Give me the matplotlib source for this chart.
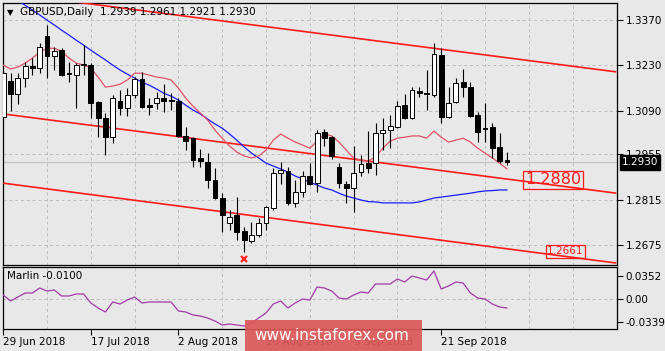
import matplotlib
matplotlib.use('Agg')
import matplotlib.pyplot as plt
import matplotlib.transforms as mtransforms
from matplotlib.patches import Rectangle
import numpy as np

# ---------------- data ----------------
symbol_header = "GBPUSD,Daily  1.2939 1.2961 1.2921 1.2930"
indicator_name = "Marlin -0.0100"

date_tick_idx = [0, 12, 24, 36, 48, 60]
date_tick_labels = ["29 Jun 2018", "17 Jul 2018", "2 Aug 2018", "20 Aug 2018", "5 Sep 2018", "21 Sep 2018"]

price_ticks = [1.3370, 1.3230, 1.3090, 1.2955, 1.2815, 1.2675]
marlin_ticks = [0.0352, 0.0, -0.0339]
marlin_tick_labels = ["0.0352", "0.00", "-0.0339"]

opens = [1.3070, 1.3182, 1.3141, 1.3191, 1.3228, 1.3222, 1.3321, 1.3259, 1.3277, 1.3206,
         1.3200, 1.3231, 1.3231, 1.3117, 1.3067, 1.3008, 1.3120, 1.3098, 1.3138, 1.3188,
         1.3107, 1.3114, 1.3129, 1.3123, 1.3120, 1.3012, 1.3005, 1.2944, 1.2931, 1.2876,
         1.2820, 1.2743, 1.2767, 1.2718, 1.2687, 1.2706, 1.2743, 1.2789, 1.2897, 1.2903,
         1.2805, 1.2839, 1.2888, 1.2866, 1.3024, 1.3008, 1.2916, 1.2863, 1.2851, 1.2900,
         1.2928, 1.2928, 1.3021, 1.3030, 1.3039, 1.3107, 1.3067, 1.3151, 1.3144, 1.3138,
         1.3262, 1.3070, 1.3117, 1.3178, 1.3163, 1.3076, 1.3038, 1.3039, 1.2978, 1.2939]
highs = [1.3209, 1.3206, 1.3206, 1.3240, 1.3253, 1.3299, 1.3355, 1.3287, 1.3283, 1.3240,
         1.3237, 1.3293, 1.3237, 1.3120, 1.3083, 1.3138, 1.3154, 1.3160, 1.3194, 1.3209,
         1.3129, 1.3148, 1.3172, 1.3144, 1.3129, 1.3039, 1.3008, 1.2971, 1.2959, 1.2913,
         1.2835, 1.2783, 1.2823, 1.2730, 1.2746, 1.2758, 1.2795, 1.2913, 1.2931, 1.2916,
         1.2876, 1.2903, 1.2928, 1.3030, 1.3033, 1.3012, 1.2928, 1.2873, 1.2981, 1.2953,
         1.3027, 1.3052, 1.3067, 1.3076, 1.3120, 1.3141, 1.3163, 1.3163, 1.3216, 1.3299,
         1.3283, 1.3163, 1.3191, 1.3219, 1.3178, 1.3086, 1.3114, 1.3052, 1.3021, 1.2961]
lows = [1.3067, 1.3089, 1.3110, 1.3163, 1.3200, 1.3206, 1.3191, 1.3216, 1.3197, 1.3178,
        1.3098, 1.3200, 1.3067, 1.3008, 1.2953, 1.2990, 1.3076, 1.3073, 1.3129, 1.3098,
        1.3076, 1.3095, 1.3086, 1.3092, 1.3008, 1.2968, 1.2916, 1.2916, 1.2851, 1.2817,
        1.2715, 1.2721, 1.2690, 1.2653, 1.2681, 1.2699, 1.2721, 1.2783, 1.2863, 1.2798,
        1.2792, 1.2823, 1.2860, 1.2839, 1.2981, 1.2940, 1.2851, 1.2805, 1.2777, 1.2888,
        1.2897, 1.2891, 1.2968, 1.2974, 1.3036, 1.3064, 1.3064, 1.3132, 1.3092, 1.3132,
        1.3052, 1.3067, 1.3114, 1.3132, 1.3070, 1.2993, 1.2993, 1.2944, 1.2928, 1.2921]
closes = [1.3206, 1.3141, 1.3191, 1.3228, 1.3222, 1.3287, 1.3259, 1.3274, 1.3200, 1.3203,
          1.3231, 1.3234, 1.3114, 1.3067, 1.3008, 1.3129, 1.3098, 1.3138, 1.3188, 1.3101,
          1.3101, 1.3129, 1.3120, 1.3120, 1.3012, 1.2996, 1.2937, 1.2934, 1.2876, 1.2820,
          1.2767, 1.2761, 1.2715, 1.2690, 1.2706, 1.2743, 1.2792, 1.2897, 1.2907, 1.2805,
          1.2839, 1.2888, 1.2863, 1.3021, 1.3005, 1.2950, 1.2866, 1.2851, 1.2897, 1.2925,
          1.2913, 1.3021, 1.3030, 1.3042, 1.3104, 1.3067, 1.3154, 1.3144, 1.3143, 1.3265,
          1.3070, 1.3114, 1.3175, 1.3163, 1.3073, 1.3024, 1.3035, 1.2974, 1.2934, 1.2930]

ma_slow = [1.3456, 1.3444, 1.3432, 1.3416, 1.3401, 1.3386, 1.3370, 1.3355, 1.3339, 1.3324,
           1.3308, 1.3293, 1.3277, 1.3262, 1.3247, 1.3231, 1.3216, 1.3203, 1.3191, 1.3178,
           1.3169, 1.3157, 1.3144, 1.3135, 1.3123, 1.3107, 1.3092, 1.3080, 1.3064, 1.3049,
           1.3036, 1.3018, 1.2999, 1.2978, 1.2959, 1.2944, 1.2928, 1.2919, 1.2910, 1.2900,
           1.2888, 1.2879, 1.2869, 1.2860, 1.2851, 1.2845, 1.2835, 1.2826, 1.2820, 1.2814,
           1.2809, 1.2808, 1.2805, 1.2805, 1.2805, 1.2805, 1.2805, 1.2808, 1.2814, 1.2820,
           1.2823, 1.2826, 1.2829, 1.2832, 1.2835, 1.2839, 1.2842, 1.2843, 1.2845, 1.2845]

ma_fast = [1.3231, 1.3219, 1.3225, 1.3237, 1.3253, 1.3271, 1.3283, 1.3283, 1.3274, 1.3253,
           1.3237, 1.3231, 1.3222, 1.3194, 1.3163, 1.3166, 1.3172, 1.3185, 1.3206, 1.3206,
           1.3200, 1.3194, 1.3191, 1.3185, 1.3160, 1.3129, 1.3104, 1.3083, 1.3061, 1.3030,
           1.3005, 1.2981, 1.2962, 1.2950, 1.2944, 1.2950, 1.2968, 1.2999, 1.3018, 1.3005,
           1.2993, 1.2984, 1.2974, 1.2996, 1.3018, 1.3012, 1.2993, 1.2968, 1.2944, 1.2937,
           1.2934, 1.2947, 1.2974, 1.2996, 1.3005, 1.3008, 1.3012, 1.3012, 1.3005, 1.3027,
           1.3008, 1.2993, 1.2999, 1.3005, 1.2993, 1.2974, 1.2959, 1.2944, 1.2928, 1.2910]

marlin = [0.0066, -0.0024, 0.0036, 0.0096, 0.0096, 0.0171, 0.0126, 0.0141, 0.0051, 0.0051,
          0.0081, 0.0081, -0.0054, -0.0129, -0.0189, -0.0039, -0.0069, -0.0009, 0.0036, -0.0054,
          -0.0039, -0.0039, -0.0039, -0.0039, -0.0174, -0.0189, -0.0234, -0.0249, -0.0279, -0.0324,
          -0.0384, -0.0369, -0.0384, -0.0399, -0.0354, -0.0279, -0.0204, -0.0069, -0.0024, -0.0129,
          -0.0054, 0.0006, -0.0009, 0.0186, 0.0171, 0.0126, 0.0021, 0.0006, 0.0066, 0.0111,
          0.0096, 0.0231, 0.0231, 0.0231, 0.0306, 0.0261, 0.0351, 0.0321, 0.0291, 0.0426,
          0.0156, 0.0201, 0.0261, 0.0246, 0.0096, 0.0021, 0.0006, -0.0069, -0.0114, -0.0129]

# trend lines: (bar index, price) endpoints
trend_bars = [0, 84]
trend_upper = [1.3455, 1.3210]
trend_middle = [1.3080, 1.2835]
trend_lower = [1.2866, 1.2619]

level_main = "1.2880"
level_low = "1.2661"
current_price = 1.2930
low_mark_bar = 33
low_mark_price = 1.2632

# ---------------- figure ----------------
BG = '#e8e8e8'
W, H = 665, 351
fig = plt.figure(figsize=(W / 100, H / 100), dpi=100, facecolor=BG)
plt.rcParams['font.family'] = ['DejaVu Sans']


def frac(x0, y0, x1, y1):
    return [x0 / W, 1 - y1 / H, (x1 - x0) / W, (y1 - y0) / H]


ax = fig.add_axes(frac(3, 3, 617, 265))
ax2 = fig.add_axes(frac(3, 267, 617, 329))
for a in (ax, ax2):
    a.set_facecolor(BG)
    for s in a.spines.values():
        s.set_color('black')
        s.set_linewidth(0.9)
    a.set_xlim(-0.03, 84.08)

n = len(opens)
x = np.arange(n)
o = np.array(opens); c = np.array(closes); hi = np.array(highs); lo = np.array(lows)
up = c >= o

grid_kw = dict(color='#bdbdbd', lw=0.7, ls=(0, (3, 3)))

# main panel grid
ax.set_ylim(1.2613, 1.3423)
ax.set_yticks(price_ticks)
ax.set_yticklabels([f"{p:.4f}" for p in price_ticks])
ax.yaxis.tick_right()
ax.tick_params(axis='y', direction='out', length=4, width=0.8, pad=2, labelsize=7.5, colors='black')
ax.set_xticks(np.arange(6, 84, 6))
ax.tick_params(axis='x', length=0, labelbottom=False)
ax.grid(True, which='major', **grid_kw)
ax.set_axisbelow(True)

# current price line
ax.axhline(current_price, color='#c6c6c6', lw=1.0, zorder=1)

# trend lines
for tl in (trend_upper, trend_middle, trend_lower):
    ax.plot(trend_bars, tl, color='#ff1a1a', lw=1.2, zorder=4, solid_capstyle='butt')

# moving averages
ax.plot(x, ma_slow, color='#1a1aff', lw=0.9, zorder=5)
ax.plot(x, ma_fast, color='#e2506a', lw=0.9, zorder=5)

# candles
ax.vlines(x, lo, hi, color='black', lw=0.8, zorder=6)
body = np.maximum(np.abs(c - o), 0.00004)
bottom = np.minimum(o, c)
ax.bar(x, body, bottom=bottom, width=0.66, color=np.where(up, 'white', 'black'),
       edgecolor='black', linewidth=0.7, zorder=7)

# low marker
ax.plot([low_mark_bar], [low_mark_price], marker='x', color='#ff2020', ms=4.5, mew=1.6, zorder=8)

# level labels
ax.text(75.3, 1.2876, level_main, color='#ff1a1a', fontsize=11.5, ha='center', va='center', zorder=9,
        bbox=dict(boxstyle='square,pad=0.12', fc='none', ec='#ff1a1a', lw=0.9))
ax.text(77.0, 1.2655, level_low, color='#ff1a1a', fontsize=7.5, ha='center', va='center', zorder=9,
        bbox=dict(boxstyle='square,pad=0.12', fc='none', ec='#ff1a1a', lw=0.9))

# current price box on axis
trans = mtransforms.blended_transform_factory(ax.transAxes, ax.transData)
ax.text(1.0 + 5 / 614, current_price, f"{current_price:.4f}", transform=trans, color='white',
        fontsize=7.5, ha='left', va='center', clip_on=False, zorder=20,
        bbox=dict(boxstyle='square,pad=0.2', fc='black', ec='black'))

# ---------------- indicator panel ----------------
ax2.set_ylim(-0.0444, 0.0486)
ax2.plot(x, marlin, color='#a23aa8', lw=0.9, zorder=5)
ax2.axhline(0.0, zorder=1, **grid_kw)
ax2.set_yticks(marlin_ticks)
ax2.set_yticklabels(marlin_tick_labels)
ax2.yaxis.tick_right()
ax2.tick_params(axis='y', direction='out', length=4, width=0.8, pad=2, labelsize=7.5, colors='black')
ax2.set_xticks(date_tick_idx)
ax2.set_xticklabels(date_tick_labels)
ax2.set_xticks(np.arange(6, 84, 6), minor=True)
ax2.tick_params(axis='x', which='major', direction='out', length=4, width=0.8, pad=1.5, labelsize=7.5)
ax2.tick_params(axis='x', which='minor', length=0)
ax2.grid(True, which='minor', axis='x', **grid_kw)
ax2.set_axisbelow(True)
for lbl in ax2.get_xticklabels():
    lbl.set_horizontalalignment('left')

# header texts
fig.text(7 / W, 1 - 12.5 / H, '▼', fontsize=6, ha='left', va='center', color='black')
fig.text(20 / W, 1 - 12 / H, symbol_header, fontsize=7.5, ha='left', va='center', color='black')
fig.text(7 / W, 1 - 276 / H, indicator_name, fontsize=7.5, ha='left', va='center', color='black')

# watermark
wm = Rectangle((245 / W, 0), (422 - 245) / W, (351 - 320) / H, transform=fig.transFigure,
               facecolor='#dc5858', edgecolor='none', alpha=0.92, zorder=10)
fig.patches.append(wm)
fig.text(332 / W, 1 - 336 / H, 'www.instaforex.com', color='white', fontsize=11,
         ha='center', va='center', zorder=11)

fig.savefig('out.png', dpi=100, facecolor=BG)
